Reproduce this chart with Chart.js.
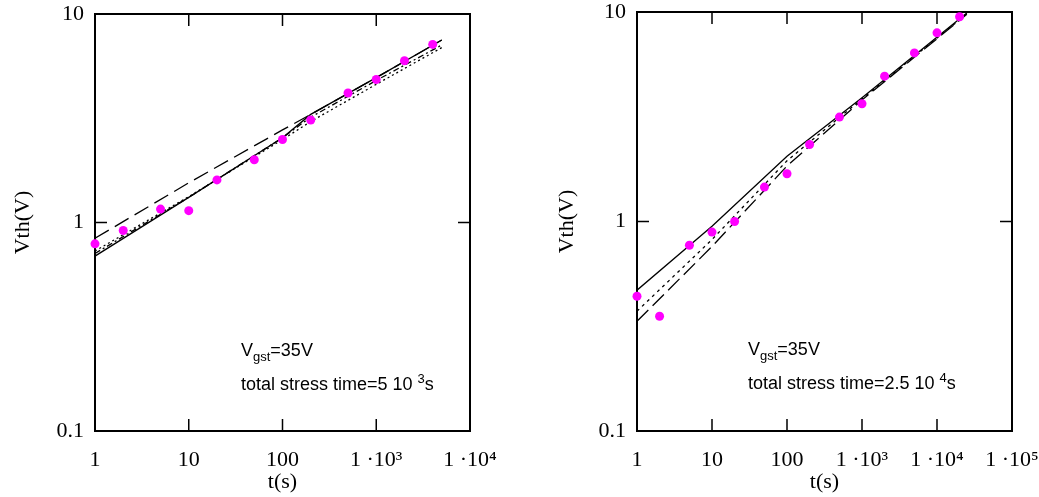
<!DOCTYPE html>
<html>
<head>
<meta charset="utf-8">
<script src="https://cdn.jsdelivr.net/npm/chart.js@4.4.1/dist/chart.umd.min.js"></script>
<style>
  html, body { margin: 0; padding: 0; background: #fff; }
  #wrap { position: relative; width: 1039px; height: 497px; }
  .panel { position: absolute; top: 0; }
</style>
</head>
<body>
<div id="wrap">
  <div class="panel" style="left:0"><canvas id="left" width="520" height="497"></canvas></div>
  <div class="panel" style="left:520px"><canvas id="right" width="519" height="497"></canvas></div>
</div>
<script>
// y axis, shared by both panels
var yTicks = [0.1, 1, 10];
var yLabels = ['0.1', '1', '10'];

// left panel (total stress time 5e3 s)
var xTicksLeft = [1, 10, 100, 1000, 10000];
var xLabelsLeft = ['1', '10', '100', '1 \u00b710\u00b3', '1 \u00b710\u2074'];
var tMeasLeft = [1, 2, 5, 10, 20, 50, 100, 200, 500, 1000, 2000, 4000];
var vMeasLeft = [0.79, 0.915, 1.16, 1.14, 1.6, 2.0, 2.5, 3.1, 4.18, 4.85, 5.97, 7.15];
var tFitLeft = [1, 10, 100, 200, 1000, 5000];
var solidLeft = [0.69, 1.32, 2.55, 3.3, 4.95, 7.5];
var longDashLeft = [0.84, 1.55, 2.78, 3.3, 4.95, 7.5];
var dottedLeft = [0.73, 1.33, 2.5, 3.05, 4.6, 6.9];
var dashDotLeft = [0.71, 1.32, 2.55, 3.2, 4.8, 7.1];

// right panel (total stress time 2.5e4 s)
var xTicksRight = [1, 10, 100, 1000, 10000, 100000];
var xLabelsRight = ['1', '10', '100', '1 \u00b710\u00b3', '1 \u00b710\u2074', '1 \u00b710\u2075'];
var tMeasRight = [1, 2, 5, 10, 20, 50, 100, 200, 500, 1000, 2000, 5000, 10000, 20000];
var vMeasRight = [0.44, 0.353, 0.77, 0.89, 1.0, 1.46, 1.69, 2.33, 3.15, 3.65, 4.94, 6.38, 7.95, 9.49];
var tFitRight = [1, 10, 100, 1000, 25000];
var solidRight = [0.47, 0.95, 2.05, 3.9, 9.9];
var dottedRight = [0.373, 0.82, 1.95, 3.85, 9.8];
var longDashRight = [0.334, 0.76, 1.84, 3.8, 9.75];

function pts(xs, ys) {
    return xs.map(function(x, i) { return { x: x, y: ys[i] }; });
}

function lineSet(xs, ys, dash) {
    return {
        data: pts(xs, ys),
        showLine: true,
        borderColor: '#000',
        borderWidth: 1.3,
        borderDash: dash,
        pointRadius: 0,
        fill: false
    };
}

var framePlugin = {
    id: 'frame',
    beforeDatasetsDraw: function(chart) {
        var ctx = chart.ctx, a = chart.chartArea;
        var xs = chart.scales.x, ys = chart.scales.y;
        ctx.save();
        ctx.strokeStyle = '#000';
        ctx.lineWidth = 2;
        ctx.strokeRect(a.left, a.top, a.right - a.left, a.bottom - a.top);
        ctx.lineWidth = 1.5;
        ctx.beginPath();
        xs.ticks.forEach(function(t) {
            var px = xs.getPixelForValue(t.value);
            if (px <= a.left + 2 || px >= a.right - 2) return;
            ctx.moveTo(px, a.bottom); ctx.lineTo(px, a.bottom - 12);
            ctx.moveTo(px, a.top); ctx.lineTo(px, a.top + 12);
        });
        ys.ticks.forEach(function(t) {
            var py = ys.getPixelForValue(t.value);
            if (py <= a.top + 2 || py >= a.bottom - 2) return;
            ctx.moveTo(a.left, py); ctx.lineTo(a.left + 12, py);
            ctx.moveTo(a.right, py); ctx.lineTo(a.right - 12, py);
        });
        ctx.stroke();
        ctx.restore();
    },
    afterDraw: function(chart) {
        var o = chart.options.plugins.frame;
        if (!o) return;
        var ctx = chart.ctx;
        var x = chart.chartArea.left + o.dx;
        var big = '18px "Liberation Sans", Arial, sans-serif';
        var small = '13px "Liberation Sans", Arial, sans-serif';
        ctx.save();
        ctx.fillStyle = '#000';
        ctx.textBaseline = 'alphabetic';
        ctx.textAlign = 'left';
        // V_gst=35V
        ctx.font = big;
        ctx.fillText('V', x, o.y1);
        var w = ctx.measureText('V').width;
        ctx.font = small;
        ctx.fillText('gst', x + w, o.y1 + 5);
        w += ctx.measureText('gst').width;
        ctx.font = big;
        ctx.fillText('=35V', x + w, o.y1);
        // total stress time
        ctx.fillText(o.line2, x, o.y2);
        w = ctx.measureText(o.line2).width;
        ctx.font = small;
        ctx.fillText(o.exp, x + w, o.y2 - 7);
        w += ctx.measureText(o.exp).width;
        ctx.font = big;
        ctx.fillText('s', x + w, o.y2);
        ctx.restore();
    }
};

var serif = '"Liberation Serif", "Times New Roman", serif';

function noPad(s) {
    s.paddingLeft = 0;
    s.paddingRight = 0;
    s.paddingTop = 0;
    s.paddingBottom = 0;
}

function makeChart(id, p) {
    var datasets = [{
        data: pts(p.tMeas, p.vMeas),
        backgroundColor: '#ff00ff',
        borderWidth: 0,
        pointRadius: 4.5,
        clip: false
    }].concat(p.lines);

    return new Chart(document.getElementById(id), {
        type: 'scatter',
        data: { datasets: datasets },
        plugins: [framePlugin],
        options: {
            responsive: false,
            animation: false,
            events: [],
            layout: { padding: { left: 0, right: p.padRight, top: p.padTop, bottom: 0 } },
            plugins: {
                legend: { display: false },
                tooltip: { enabled: false },
                frame: p.note
            },
            scales: {
                x: {
                    type: 'logarithmic',
                    min: p.xTicks[0],
                    max: p.xTicks[p.xTicks.length - 1],
                    border: { display: false },
                    grid: { display: false, drawTicks: false },
                    afterBuildTicks: function(s) {
                        s.ticks = p.xTicks.map(function(v) { return { value: v }; });
                    },
                    afterFit: function(s) { s.height = p.xAxisH; noPad(s); },
                    ticks: {
                        autoSkip: false,
                        maxRotation: 0,
                        minRotation: 0,
                        padding: 18,
                        color: '#000',
                        font: { family: serif, size: 22, lineHeight: 1 },
                        callback: function(v) {
                            var i = p.xTicks.indexOf(v);
                            return i < 0 ? '' : p.xLabels[i];
                        }
                    },
                    title: {
                        display: true,
                        text: 't(s)',
                        color: '#000',
                        padding: { top: 0, bottom: 2 },
                        font: { family: serif, size: 22 }
                    }
                },
                y: {
                    type: 'logarithmic',
                    min: 0.1,
                    max: 10,
                    border: { display: false },
                    grid: { display: false, drawTicks: false },
                    afterBuildTicks: function(s) {
                        s.ticks = yTicks.map(function(v) { return { value: v }; });
                    },
                    afterFit: function(s) { s.width = p.yAxisW; noPad(s); },
                    ticks: {
                        autoSkip: false,
                        padding: 11,
                        color: '#000',
                        font: { family: serif, size: 22, lineHeight: 1 },
                        callback: function(v) {
                            var i = yTicks.indexOf(v);
                            return i < 0 ? '' : yLabels[i];
                        }
                    },
                    title: {
                        display: true,
                        text: 'Vth(V)',
                        color: '#000',
                        padding: { top: p.yTitlePad, bottom: 0 },
                        font: { family: serif, size: 22 }
                    }
                }
            }
        }
    });
}

makeChart('left', {
    tMeas: tMeasLeft,
    vMeas: vMeasLeft,
    lines: [
        lineSet(tFitLeft, solidLeft, []),
        lineSet(tFitLeft, longDashLeft, [16, 7]),
        lineSet(tFitLeft, dottedLeft, [2, 3]),
        lineSet(tFitLeft, dashDotLeft, [6, 3, 2, 3])
    ],
    xTicks: xTicksLeft,
    xLabels: xLabelsLeft,
    padRight: 50,
    padTop: 14,
    xAxisH: 66,
    yAxisW: 95,
    yTitlePad: 10,
    note: { dx: 146, y1: 356, y2: 390, line2: 'total stress time=5 10 ', exp: '3' }
});

makeChart('right', {
    tMeas: tMeasRight,
    vMeas: vMeasRight,
    lines: [
        lineSet(tFitRight, solidRight, []),
        lineSet(tFitRight, dottedRight, [3, 4]),
        lineSet(tFitRight, longDashRight, [16, 6])
    ],
    xTicks: xTicksRight,
    xLabels: xLabelsRight,
    padRight: 27,
    padTop: 12,
    xAxisH: 66,
    yAxisW: 117,
    yTitlePad: 34,
    note: { dx: 111, y1: 355, y2: 389, line2: 'total stress time=2.5 10 ', exp: '4' }
});
</script>
</body>
</html>
